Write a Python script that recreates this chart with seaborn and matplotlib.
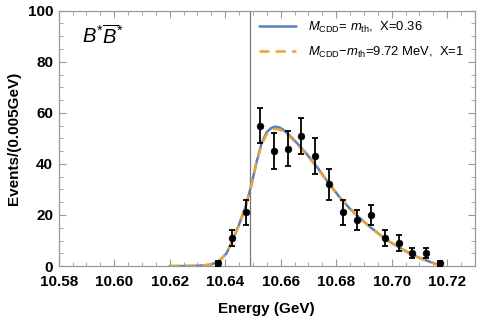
import matplotlib
matplotlib.use("Agg")
import matplotlib.pyplot as plt
import seaborn as sns
import numpy as np
import pandas as pd
from matplotlib.ticker import MultipleLocator

# data points
energy = [10.6375, 10.6425, 10.6475, 10.6525, 10.6575, 10.6625, 10.6675, 10.6725, 10.6775,
          10.6825, 10.6875, 10.6925, 10.6975, 10.7025, 10.7075, 10.7125, 10.7175]
events = [1, 11, 21, 55, 45, 46, 51, 43, 32, 21, 18, 20, 11, 9, 5, 5, 1]
errors = [1, 3, 5, 7, 7, 7, 7, 7, 6, 5, 4, 4, 3, 3, 2, 2, 1]

# fit curves
curve_e = [10.620, 10.625, 10.630, 10.6345, 10.6375, 10.6405, 10.6424, 10.6447, 10.6473, 10.6495,
           10.6513, 10.6531, 10.6549, 10.6565, 10.6579, 10.6595, 10.6609, 10.6644, 10.6693, 10.6735,
           10.6774, 10.6810, 10.6849, 10.6885, 10.6921, 10.6957, 10.6993, 10.7030, 10.7065,
           10.7100, 10.7137, 10.7175]
curve_blue = [0.0, 0.0, 0.1, 0.5, 1.6, 5.0, 9.5, 15.4, 23.0, 32.0,
              40.7, 48.0, 52.3, 54.0, 54.6, 54.3, 53.4, 49.9, 44.0, 38.2,
              32.3, 27.3, 22.5, 18.8, 15.4, 12.3, 9.5, 7.1, 5.0,
              3.2, 1.7, 0.2]
curve_orange = [0.0, 0.0, 0.1, 0.5, 1.6, 5.0, 9.5, 15.4, 23.0, 32.0,
                40.5, 47.5, 51.5, 53.2, 53.7, 53.5, 52.8, 49.5, 43.8, 38.0,
                32.2, 27.2, 22.5, 18.8, 15.4, 12.3, 9.5, 7.1, 5.0,
                3.2, 1.7, 0.2]
threshold = 10.6489

label_blue = r'$M_{\rm CDD}$= $m_{\rm th}$,  X=0.36'
label_orange = r'$M_{\rm CDD}$$-$$m_{\rm th}$=9.72 MeV,  X=1'

sns.set_style("ticks")
plt.rcParams['font.family'] = ['Liberation Sans', 'DejaVu Sans']
plt.rcParams['mathtext.fontset'] = 'custom'
plt.rcParams['mathtext.rm'] = 'Liberation Sans'
plt.rcParams['mathtext.it'] = 'Liberation Sans:italic'
plt.rcParams['mathtext.bf'] = 'Liberation Sans:bold'
plt.rcParams['text.color'] = 'black'
plt.rcParams['axes.labelcolor'] = 'black'
plt.rcParams['xtick.labelcolor'] = 'black'
plt.rcParams['ytick.labelcolor'] = 'black'

fig = plt.figure(figsize=(4.79, 3.19), dpi=100)
ax = fig.add_axes([0.1225, 0.166, 0.869, 0.8005])

df_c = pd.DataFrame({'E': curve_e, 'blue': curve_blue, 'orange': curve_orange})
sns.lineplot(data=df_c, x='E', y='blue', ax=ax, color='#5b7fbf', lw=1.8, label=label_blue)
sns.lineplot(data=df_c, x='E', y='orange', ax=ax, color='#e8a23a', lw=1.8, ls=(0, (4, 2.5)), label=label_orange)

ax.axvline(threshold, color='#777777', lw=0.9, zorder=1)

df_p = pd.DataFrame({'E': energy, 'N': events, 'err': errors})
ax.errorbar(df_p['E'], df_p['N'], yerr=df_p['err'], fmt='none', ecolor='black', elinewidth=1.3,
            capsize=2.5, capthick=1.3, zorder=4)
sns.scatterplot(data=df_p, x='E', y='N', ax=ax, color='black', s=24, edgecolor='black', zorder=5, legend=False)

ax.set_xlim(10.58, 10.73)
ax.set_ylim(0, 100)
ax.xaxis.set_minor_locator(MultipleLocator(0.005))
ax.yaxis.set_major_locator(MultipleLocator(20))
ax.yaxis.set_minor_locator(MultipleLocator(5))
xt = np.arange(10.58, 10.7201, 0.02)
ax.set_xticks(xt)
ax.set_xticklabels([f"{v:.2f}" for v in xt])
ax.tick_params(which='both', direction='in', top=True, right=True, color='#999999')
ax.tick_params(which='major', length=5, width=0.8, labelsize=11)
ax.tick_params(axis='x', which='major', pad=6.5)
ax.tick_params(axis='y', which='major', pad=4)
ax.tick_params(which='minor', length=3, width=0.6)
for lab in ax.get_xticklabels() + ax.get_yticklabels():
    lab.set_fontweight('bold')
for sp in ax.spines.values():
    sp.set_color('#999999')
    sp.set_linewidth(0.9)

ax.set_xlabel('Energy (GeV)', fontsize=11, fontweight='bold', labelpad=9)
ax.set_ylabel('Events/(0.005GeV)', fontsize=11, fontweight='bold', labelpad=5)

ax.text(0.055, 0.9, r'$B^{*}\overline{B}^{*}$', transform=ax.transAxes, fontsize=14.5, va='center')

leg = ax.legend(loc='upper right', bbox_to_anchor=(0.995, 1.0), frameon=False, fontsize=9.4,
                handlelength=2.8, handletextpad=0.9, labelspacing=0.75, borderaxespad=0.3)

fig.savefig('out.png', dpi=100)
